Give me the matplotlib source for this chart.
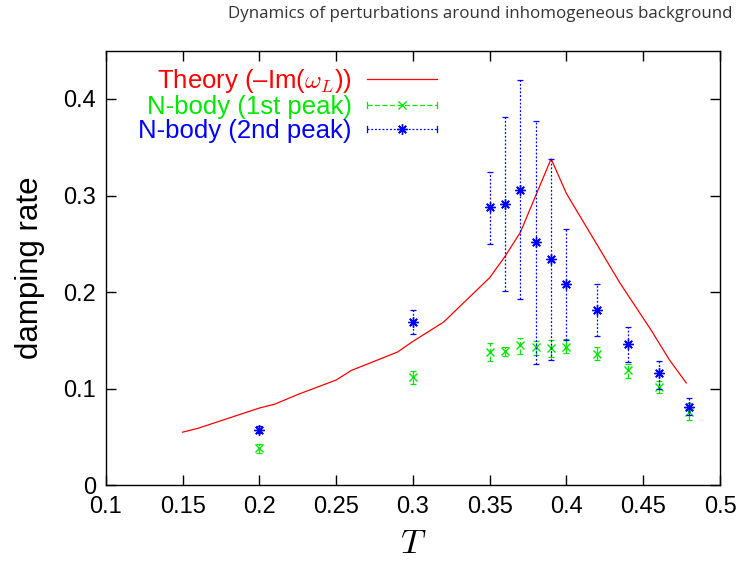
import matplotlib
matplotlib.use("Agg")
import matplotlib.pyplot as plt
from matplotlib.legend_handler import HandlerLine2D
from matplotlib.lines import Line2D

plt.rcParams["font.family"] = ["Liberation Sans", "DejaVu Sans"]
plt.rcParams["mathtext.fontset"] = "cm"

# theory curve: -Im(omega_L)
theory_T = [0.15, 0.16, 0.20, 0.21, 0.225, 0.25, 0.26, 0.29, 0.30, 0.31, 0.32,
            0.335, 0.35, 0.36, 0.37, 0.39, 0.40, 0.435, 0.455, 0.467, 0.478]
theory_rate = [0.055, 0.059, 0.080, 0.084, 0.094, 0.109, 0.119, 0.138, 0.149, 0.159, 0.169,
               0.192, 0.215, 0.237, 0.262, 0.338, 0.302, 0.209, 0.161, 0.130, 0.106]

# N-body, 1st peak
p1_T = [0.20, 0.30, 0.35, 0.36, 0.37, 0.38, 0.39, 0.40, 0.42, 0.44, 0.46, 0.48]
p1_rate = [0.0385, 0.112, 0.138, 0.139, 0.145, 0.143, 0.142, 0.143, 0.136, 0.119, 0.1015, 0.076]
p1_lo = [0.033, 0.105, 0.129, 0.134, 0.136, 0.135, 0.133, 0.137, 0.130, 0.1115, 0.096, 0.068]
p1_hi = [0.043, 0.118, 0.147, 0.1435, 0.153, 0.149, 0.150, 0.151, 0.143, 0.126, 0.108, 0.085]

# N-body, 2nd peak
p2_T = [0.20, 0.30, 0.35, 0.36, 0.37, 0.38, 0.39, 0.40, 0.42, 0.44, 0.46, 0.48]
p2_rate = [0.0574, 0.169, 0.288, 0.291, 0.306, 0.2515, 0.234, 0.2085, 0.1815, 0.146, 0.116, 0.0815]
p2_lo = [0.054, 0.157, 0.250, 0.2015, 0.193, 0.126, 0.130, 0.150, 0.1546, 0.128, 0.100, 0.073]
p2_hi = [0.061, 0.181, 0.3245, 0.381, 0.420, 0.377, 0.3376, 0.265, 0.208, 0.164, 0.1287, 0.090]

x_ticks = [0.1, 0.15, 0.2, 0.25, 0.3, 0.35, 0.4, 0.45, 0.5]
x_tick_labels = ["0.1", "0.15", "0.2", "0.25", "0.3", "0.35", "0.4", "0.45", "0.5"]
y_ticks = [0, 0.1, 0.2, 0.3, 0.4]
y_tick_labels = ["0", "0.1", "0.2", "0.3", "0.4"]

RED = "#ff0000"
GREEN = "#00e800"
BLUE = "#0000ff"
ASTERISK = (8, 2, 0)


class HandlerCapLine(HandlerLine2D):
    """gnuplot-style legend sample: horizontal line with end caps and a centre marker."""

    def create_artists(self, legend, orig_handle, xdescent, ydescent,
                       width, height, fontsize, trans):
        artists = super().create_artists(legend, orig_handle, xdescent, ydescent,
                                         width, height, fontsize, trans)
        y = height / 2 - ydescent
        cap = 0.15 * height
        for x in (-xdescent, width - xdescent):
            c = Line2D([x, x], [y - cap, y + cap], color=orig_handle.get_color(),
                       lw=orig_handle.get_linewidth(), transform=trans)
            artists.append(c)
        return artists


fig = plt.figure(figsize=(7.4, 5.63), dpi=100)
ax = fig.add_axes([0.143, 0.138, 0.830, 0.772])

ax.plot(theory_T, theory_rate, color=RED, lw=0.9)

err1 = [[r - lo for r, lo in zip(p1_rate, p1_lo)], [hi - r for r, hi in zip(p1_rate, p1_hi)]]
eb1 = ax.errorbar(p1_T, p1_rate, yerr=err1, fmt="none", ecolor=GREEN, elinewidth=0.9,
                  capsize=2.5, capthick=0.9)
eb1[2][0].set_linestyle((0, (4, 2)))
ax.plot(p1_T, p1_rate, ls="none", marker="x", ms=6, mew=1.0, color=GREEN)

err2 = [[r - lo for r, lo in zip(p2_rate, p2_lo)], [hi - r for r, hi in zip(p2_rate, p2_hi)]]
eb2 = ax.errorbar(p2_T, p2_rate, yerr=err2, fmt="none", ecolor=BLUE, elinewidth=0.9,
                  capsize=2.5, capthick=0.9)
eb2[2][0].set_linestyle((0, (1.5, 1.5)))
ax.plot(p2_T, p2_rate, ls="none", marker=ASTERISK, ms=7.5, mew=1.0, color=BLUE)

ax.set_xlim(0.1, 0.5)
ax.set_ylim(0, 0.45)
ax.set_xticks(x_ticks)
ax.set_xticklabels(x_tick_labels)
ax.set_yticks(y_ticks)
ax.set_yticklabels(y_tick_labels)
ax.tick_params(direction="in", top=True, right=True, length=7, width=1,
               labelsize=17, colors="black")
ax.tick_params(axis="x", pad=8)
ax.tick_params(axis="y", pad=7)
for s in ax.spines.values():
    s.set_linewidth(1.0)

ax.set_xlabel("$T$", fontsize=25, labelpad=6)
ax.set_ylabel("damping rate", fontsize=22.5, labelpad=13)

handles = [
    Line2D([], [], color=RED, lw=0.9),
    Line2D([], [], color=GREEN, lw=0.9, ls=(0, (4, 2)), marker="x", ms=6),
    Line2D([], [], color=BLUE, lw=0.9, ls=(0, (1.5, 1.5)), marker=ASTERISK, ms=7.5),
]
labels = [r"Theory (–Im($\omega_L$))", "N-body (1st peak)", "N-body (2nd peak)"]
leg = ax.legend(handles, labels, loc="upper right", bbox_to_anchor=(0.539, 0.962),
                frameon=False, markerfirst=False, fontsize=18.5, handlelength=2.7,
                handletextpad=0.62, labelspacing=0.0, borderaxespad=0.0, borderpad=0.0,
                handler_map={handles[1]: HandlerCapLine(), handles[2]: HandlerCapLine()})
for txt, col in zip(leg.get_texts(), [RED, GREEN, BLUE]):
    txt.set_color(col)
    txt.set_ha("right")

fig.text(0.308, 0.976, "Dynamics of perturbations around inhomogeneous background",
         fontsize=12.2, color="#333333", ha="left", va="center",
         family=["Open Sans", "DejaVu Sans"])

fig.savefig("out.png", dpi=100)
